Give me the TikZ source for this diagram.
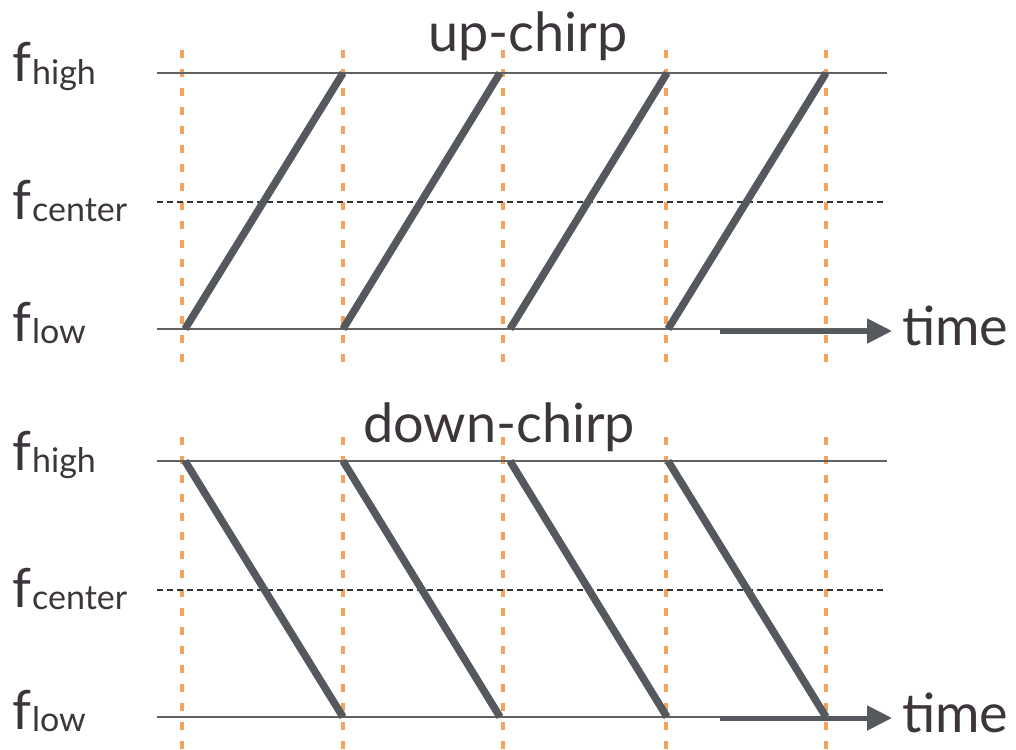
\documentclass[tikz,border=0pt]{standalone}
\usepackage{fontspec}
\setmainfont{Lato}
\usetikzlibrary{arrows.meta}
\definecolor{chGray}{RGB}{85,89,93}
\definecolor{chOrange}{RGB}{245,162,92}
\definecolor{chText}{RGB}{60,54,60}
\newcommand{\flab}[1]{f\kern1pt\raisebox{-2pt}{\fontsize{34}{34}\selectfont #1}}

\begin{document}
\begin{tikzpicture}[x=1pt,y=-1pt,
    lvl/.style={line width=1.6pt,draw=black!62},
    ctr/.style={line width=1.5pt,draw=black!80,dash pattern=on 6pt off 4pt},
    slot/.style={line width=4.2pt,draw=chOrange,dash pattern=on 8pt off 11pt},
    chirp/.style={line width=7.5pt,draw=chGray},
    tarr/.style={line width=5pt,draw=chGray,-{Triangle[length=25pt,width=24pt]}},
    lab/.style={font=\fontsize{54}{54}\selectfont,text=chText,anchor=base west,inner sep=0pt}]

  \useasboundingbox (0,0) rectangle (1016,749);

  % slot boundaries
  \foreach \x in {182,343,503,666,826} {
    \draw[slot] (\x,50) -- (\x,362);
    \draw[slot] (\x,437) -- (\x,749);
  }

  % frequency levels, both panels
  \foreach \dy in {0,388} {
    \draw[lvl] (157,73+\dy) -- (887,73+\dy);
    \draw[ctr] (157,202+\dy) -- (887,202+\dy);
    \draw[lvl] (157,329+\dy) -- (887,329+\dy);
  }

  % chirps
  \foreach \a/\b in {185/343,343/500,510/667,668/826} {
    \draw[chirp] (\a,329) -- (\b,73);
    \draw[chirp] (\a,461) -- (\b,717);
  }

  % time axes
  \coordinate (t0A) at (720,331);
  \coordinate (t1A) at (892,331);
  \coordinate (t0B) at (720,718);
  \coordinate (t1B) at (892,718);
  \draw[tarr] (t0A) -- (t1A);
  \draw[tarr] (t0B) -- (t1B);

  % labels
  \node[lab] (up) at (428,52) {up-chirp};
  \node[lab] (hiA) at (12,82) {\flab{high}};
  \node[lab] (ceA) at (12,219) {\flab{center}};
  \node[lab] (loA) at (12,341) {\flab{low}};
  \node[lab] (timeA) at (902,345) {time};

  \node[lab] (down) at (363,442) {down-chirp};
  \node[lab] (hiB) at (12,470) {\flab{high}};
  \node[lab] (ceB) at (12,607) {\flab{center}};
  \node[lab] (loB) at (12,729) {\flab{low}};
  \node[lab] (timeB) at (902,732) {time};
\end{tikzpicture}
\end{document}
